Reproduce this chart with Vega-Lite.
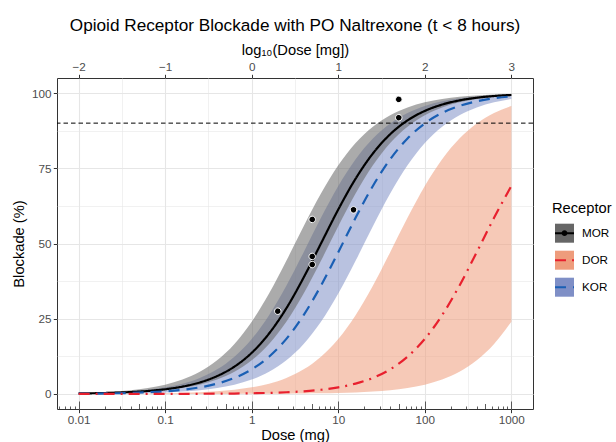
{
  "$schema": "https://vega.github.io/schema/vega-lite/v6.json",
  "width": 476,
  "height": 331,
  "autosize": {"type": "none"},
  "padding": {"left": 57, "top": 78, "right": 83, "bottom": 33},
  "background": "white",
  "title": {"text": "Opioid Receptor Blockade with PO Naltrexone (t < 8 hours)", "fontSize": 17.2, "font": "Liberation Sans", "fontWeight": "normal", "color": "black", "anchor": "middle", "offset": 8},
  "config": {
    "font": "Liberation Sans",
    "view": {"stroke": "#333333", "strokeWidth": 1},
    "axis": {"domain": false, "labelFont": "Liberation Sans", "labelColor": "#4d4d4d", "labelFontSize": 11.7, "tickColor": "#333333", "tickSize": 3.7, "tickWidth": 1, "titleFont": "Liberation Sans", "titleFontWeight": "normal", "titleFontSize": 14.7, "titleColor": "black", "gridColor": "#e6e6e6", "labelPadding": 2.2, "labelFlush": false, "labelOverlap": false, "labelBound": false},
    "legend": {"labelFont": "Liberation Sans", "titleFont": "Liberation Sans", "labelColor": "black", "titleColor": "black", "titleFontWeight": "normal", "padding": 0, "rowPadding": 0}
  },
  "datasets": {
    "curves": [
      {"d":0.01,"r":"MOR","m":0.16,"lo":0.13,"hi":0.32},
      {"d":0.01585,"r":"MOR","m":0.25,"lo":0.2,"hi":0.5},
      {"d":0.02512,"r":"MOR","m":0.4,"lo":0.32,"hi":0.79},
      {"d":0.03981,"r":"MOR","m":0.63,"lo":0.5,"hi":1.24},
      {"d":0.0631,"r":"MOR","m":0.99,"lo":0.79,"hi":1.96},
      {"d":0.1,"r":"MOR","m":1.56,"lo":1.24,"hi":3.07},
      {"d":0.1585,"r":"MOR","m":2.45,"lo":1.96,"hi":4.77},
      {"d":0.2512,"r":"MOR","m":3.83,"lo":3.07,"hi":7.36},
      {"d":0.3981,"r":"MOR","m":5.94,"lo":4.77,"hi":11.18},
      {"d":0.631,"r":"MOR","m":9.09,"lo":7.36,"hi":16.63},
      {"d":1,"r":"MOR","m":13.68,"lo":11.18,"hi":24.03},
      {"d":1.585,"r":"MOR","m":20.08,"lo":16.63,"hi":33.39},
      {"d":2.512,"r":"MOR","m":28.47,"lo":24.03,"hi":44.27},
      {"d":3.981,"r":"MOR","m":38.69,"lo":33.39,"hi":55.73},
      {"d":6.31,"r":"MOR","m":50,"lo":44.27,"hi":66.61},
      {"d":10,"r":"MOR","m":61.31,"lo":55.73,"hi":75.97},
      {"d":15.85,"r":"MOR","m":71.53,"lo":66.61,"hi":83.37},
      {"d":25.12,"r":"MOR","m":79.92,"lo":75.97,"hi":88.82},
      {"d":39.81,"r":"MOR","m":86.32,"lo":83.37,"hi":92.64},
      {"d":63.1,"r":"MOR","m":90.91,"lo":88.82,"hi":95.23},
      {"d":100,"r":"MOR","m":94.06,"lo":92.64,"hi":96.93},
      {"d":158.5,"r":"MOR","m":96.17,"lo":95.23,"hi":98.04},
      {"d":251.2,"r":"MOR","m":97.55,"lo":96.93,"hi":98.76},
      {"d":398.1,"r":"MOR","m":98.44,"lo":98.04,"hi":99.21},
      {"d":631,"r":"MOR","m":99.01,"lo":98.76,"hi":99.5},
      {"d":1000,"r":"MOR","m":99.37,"lo":99.21,"hi":99.68},
      {"d":0.01,"r":"KOR","m":0.09,"lo":0.05,"hi":0.22},
      {"d":0.01585,"r":"KOR","m":0.14,"lo":0.08,"hi":0.35},
      {"d":0.02512,"r":"KOR","m":0.22,"lo":0.13,"hi":0.56},
      {"d":0.03981,"r":"KOR","m":0.35,"lo":0.2,"hi":0.88},
      {"d":0.0631,"r":"KOR","m":0.56,"lo":0.32,"hi":1.39},
      {"d":0.1,"r":"KOR","m":0.88,"lo":0.5,"hi":2.19},
      {"d":0.1585,"r":"KOR","m":1.39,"lo":0.79,"hi":3.43},
      {"d":0.2512,"r":"KOR","m":2.19,"lo":1.24,"hi":5.32},
      {"d":0.3981,"r":"KOR","m":3.43,"lo":1.96,"hi":8.18},
      {"d":0.631,"r":"KOR","m":5.32,"lo":3.07,"hi":12.38},
      {"d":1,"r":"KOR","m":8.18,"lo":4.77,"hi":18.29},
      {"d":1.585,"r":"KOR","m":12.38,"lo":7.36,"hi":26.19},
      {"d":2.512,"r":"KOR","m":18.29,"lo":11.18,"hi":35.99},
      {"d":3.981,"r":"KOR","m":26.19,"lo":16.63,"hi":47.12},
      {"d":6.31,"r":"KOR","m":35.99,"lo":24.03,"hi":58.55},
      {"d":10,"r":"KOR","m":47.12,"lo":33.39,"hi":69.12},
      {"d":15.85,"r":"KOR","m":58.55,"lo":44.27,"hi":78.02},
      {"d":25.12,"r":"KOR","m":69.12,"lo":55.73,"hi":84.9},
      {"d":39.81,"r":"KOR","m":78.02,"lo":66.61,"hi":89.91},
      {"d":63.1,"r":"KOR","m":84.9,"lo":75.97,"hi":93.39},
      {"d":100,"r":"KOR","m":89.91,"lo":83.37,"hi":95.72},
      {"d":158.5,"r":"KOR","m":93.39,"lo":88.82,"hi":97.26},
      {"d":251.2,"r":"KOR","m":95.72,"lo":92.64,"hi":98.25},
      {"d":398.1,"r":"KOR","m":97.26,"lo":95.23,"hi":98.89},
      {"d":631,"r":"KOR","m":98.25,"lo":96.93,"hi":99.3},
      {"d":1000,"r":"KOR","m":98.89,"lo":98.04,"hi":99.55},
      {"d":0.01,"r":"DOR","m":0,"lo":0,"hi":0.02},
      {"d":0.01585,"r":"DOR","m":0,"lo":0,"hi":0.04},
      {"d":0.02512,"r":"DOR","m":0.01,"lo":0,"hi":0.06},
      {"d":0.03981,"r":"DOR","m":0.01,"lo":0,"hi":0.09},
      {"d":0.0631,"r":"DOR","m":0.01,"lo":0,"hi":0.14},
      {"d":0.1,"r":"DOR","m":0.02,"lo":0,"hi":0.22},
      {"d":0.1585,"r":"DOR","m":0.04,"lo":0.01,"hi":0.35},
      {"d":0.2512,"r":"DOR","m":0.06,"lo":0.01,"hi":0.56},
      {"d":0.3981,"r":"DOR","m":0.09,"lo":0.01,"hi":0.88},
      {"d":0.631,"r":"DOR","m":0.14,"lo":0.02,"hi":1.39},
      {"d":1,"r":"DOR","m":0.22,"lo":0.03,"hi":2.19},
      {"d":1.585,"r":"DOR","m":0.35,"lo":0.05,"hi":3.43},
      {"d":2.512,"r":"DOR","m":0.56,"lo":0.08,"hi":5.32},
      {"d":3.981,"r":"DOR","m":0.88,"lo":0.13,"hi":8.18},
      {"d":6.31,"r":"DOR","m":1.39,"lo":0.2,"hi":12.38},
      {"d":10,"r":"DOR","m":2.19,"lo":0.32,"hi":18.29},
      {"d":15.85,"r":"DOR","m":3.43,"lo":0.5,"hi":26.19},
      {"d":25.12,"r":"DOR","m":5.32,"lo":0.79,"hi":35.99},
      {"d":39.81,"r":"DOR","m":8.18,"lo":1.24,"hi":47.12},
      {"d":63.1,"r":"DOR","m":12.38,"lo":1.96,"hi":58.55},
      {"d":100,"r":"DOR","m":18.29,"lo":3.07,"hi":69.12},
      {"d":158.5,"r":"DOR","m":26.19,"lo":4.77,"hi":78.02},
      {"d":251.2,"r":"DOR","m":35.99,"lo":7.36,"hi":84.9},
      {"d":398.1,"r":"DOR","m":47.12,"lo":11.18,"hi":89.91},
      {"d":631,"r":"DOR","m":58.55,"lo":16.63,"hi":93.39},
      {"d":1000,"r":"DOR","m":69.12,"lo":24.03,"hi":95.72}
    ],
    "pts": [
      {"d":2,"b":27.5,"r":"MOR"},
      {"d":5,"b":58,"r":"MOR"},
      {"d":5,"b":45.7,"r":"MOR"},
      {"d":5,"b":43,"r":"MOR"},
      {"d":15,"b":61.2,"r":"MOR"},
      {"d":50,"b":97.9,"r":"MOR"},
      {"d":50,"b":91.8,"r":"MOR"}
    ]
  },
  "resolve": {"axis": {"x": "independent"}},
  "layer": [
    {
      "data": {"name": "curves"},
      "encoding": {
        "x": {"field": "d", "type": "quantitative",
          "scale": {"type": "log", "domain": [0.0056234, 1778.28], "nice": false},
          "axis": {"orient": "bottom", "title": "Dose (mg)", "titlePadding": 1,
            "values": [0.01, 0.0316228, 0.1, 0.316228, 1, 3.16228, 10, 31.6228, 100, 316.228, 1000],
            "labelExpr": "abs(log(datum.value)/LN10 - round(log(datum.value)/LN10)) < 0.1 ? format(datum.value, '~g') : ''",
            "tickOpacity": {"condition": {"test": "abs(log(datum.value)/LN10 - round(log(datum.value)/LN10)) > 0.1", "value": 0}, "value": 1},
            "grid": true,
            "gridWidth": {"condition": {"test": "abs(log(datum.value)/LN10 - round(log(datum.value)/LN10)) > 0.1", "value": 0.55}, "value": 1.1},
            "zindex": 0}},
        "y": {"field": "lo", "type": "quantitative",
          "scale": {"domain": [-5, 105], "nice": false, "zero": false},
          "axis": {"title": "Blockade (%)", "titlePadding": 5, "values": [0, 12.5, 25, 37.5, 50, 62.5, 75, 87.5, 100],
            "labelExpr": "datum.value % 25 == 0 ? format(datum.value, 'd') : ''",
            "tickOpacity": {"condition": {"test": "datum.value % 25 != 0", "value": 0}, "value": 1},
            "grid": true,
            "gridWidth": {"condition": {"test": "datum.value % 25 != 0", "value": 0.55}, "value": 1.1}}},
        "y2": {"field": "hi"},
        "fill": {"field": "r", "type": "nominal",
          "scale": {"domain": ["MOR", "DOR", "KOR"], "range": ["#666666", "#ee9c7c", "#7f8fc6"]},
          "legend": {"title": "Receptor", "orient": "none", "legendX": 495, "legendY": 123,
            "symbolType": "square", "symbolSize": 361, "symbolStrokeWidth": 2, "symbolStrokeColor": "transparent",
            "symbolOpacity": 1, "symbolOffset": 2, "labelOffset": 7, "labelFontSize": 11.7,
            "titleFontSize": 14.7, "titlePadding": 7, "rowPadding": 0, "padding": 0}}
      },
      "layer": [
        {"transform": [{"filter": "datum.r == 'DOR'"}], "mark": {"type": "area", "interpolate": "monotone", "fillOpacity": 0.55}},
        {"transform": [{"filter": "datum.r == 'KOR'"}], "mark": {"type": "area", "interpolate": "monotone", "fillOpacity": 0.55}},
        {"transform": [{"filter": "datum.r == 'MOR'"}], "mark": {"type": "area", "interpolate": "monotone", "fillOpacity": 0.55}}
      ]
    },
    {
      "data": {"name": "curves"},
      "mark": {"type": "line", "interpolate": "monotone", "strokeWidth": 2.2},
      "encoding": {
        "x": {"field": "d", "type": "quantitative",
          "scale": {"type": "log", "domain": [0.0056234, 1778.28], "nice": false},
          "axis": {"orient": "bottom", "title": null, "labels": false, "grid": false, "domain": false,
            "values": [0.006, 0.007, 0.008, 0.009, 0.01, 0.02, 0.03, 0.04, 0.05, 0.06, 0.07, 0.08, 0.09, 0.1, 0.2, 0.3, 0.4, 0.5, 0.6, 0.7, 0.8, 0.9, 1, 2, 3, 4, 5, 6, 7, 8, 9, 10, 20, 30, 40, 50, 60, 70, 80, 90, 100, 200, 300, 400, 500, 600, 700, 800, 900, 1000],
            "tickSize": {"condition": [
              {"test": "abs(log(datum.value)/LN10 - round(log(datum.value)/LN10)) < 0.01", "value": -8},
              {"test": "abs(log(datum.value/5)/LN10 - round(log(datum.value/5)/LN10)) < 0.01", "value": -5.5}
            ], "value": -3},
            "tickColor": "#333333", "tickWidth": 0.8, "zindex": 1}},
        "y": {"field": "m", "type": "quantitative",
          "scale": {"domain": [-5, 105], "nice": false, "zero": false},
          "axis": {"title": "Blockade (%)", "titlePadding": 5, "values": [0, 12.5, 25, 37.5, 50, 62.5, 75, 87.5, 100],
            "labelExpr": "datum.value % 25 == 0 ? format(datum.value, 'd') : ''",
            "tickOpacity": {"condition": {"test": "datum.value % 25 != 0", "value": 0}, "value": 1},
            "grid": true,
            "gridWidth": {"condition": {"test": "datum.value % 25 != 0", "value": 0.55}, "value": 1.1}}},
        "stroke": {"field": "r", "type": "nominal",
          "scale": {"domain": ["MOR", "DOR", "KOR", " "], "range": ["black", "#e8202e", "#1a5fb4", "black"]},
          "legend": {"title": null, "orient": "none", "legendX": 495, "legendY": 144.7, "values": ["MOR", "DOR", "KOR"],
            "symbolType": "M-1,-1M-1,1M-1,0L1,0", "symbolSize": 361, "symbolStrokeWidth": 2, "symbolFillColor": "transparent",
            "symbolOffset": 2, "labelExpr": "''", "labelFontSize": 21, "rowPadding": 0, "padding": 0}},
        "strokeDash": {"field": "r", "type": "nominal",
          "scale": {"domain": ["MOR", "DOR", "KOR", " "], "range": [[1, 0], [11, 6, 2, 6], [11, 7], [1, 0]]},
          "legend": {"title": null, "orient": "none", "legendX": 495, "legendY": 144.7, "values": ["MOR", "DOR", "KOR"],
            "symbolType": "M-1,-1M-1,1M-1,0L1,0", "symbolSize": 361, "symbolStrokeWidth": 2, "symbolFillColor": "transparent",
            "symbolOffset": 2, "labelExpr": "''", "labelFontSize": 21, "rowPadding": 0, "padding": 0}}
      }
    },
    {
      "data": {"values": [{}]},
      "mark": {"type": "rule", "stroke": "black", "strokeWidth": 1, "strokeDash": [4.5, 3]},
      "encoding": {
        "y": {"datum": 90, "type": "quantitative",
          "scale": {"domain": [-5, 105], "nice": false, "zero": false},
          "axis": {"title": "Blockade (%)", "titlePadding": 5, "values": [0, 12.5, 25, 37.5, 50, 62.5, 75, 87.5, 100],
            "labelExpr": "datum.value % 25 == 0 ? format(datum.value, 'd') : ''",
            "tickOpacity": {"condition": {"test": "datum.value % 25 != 0", "value": 0}, "value": 1},
            "grid": true,
            "gridWidth": {"condition": {"test": "datum.value % 25 != 0", "value": 0.55}, "value": 1.1}}}
      }
    },
    {
      "data": {"name": "pts"},
      "mark": {"type": "point", "filled": true, "fill": "black", "stroke": "white", "strokeWidth": 1, "size": 470, "opacity": 1},
      "encoding": {
        "x": {"field": "d", "type": "quantitative",
          "scale": {"type": "log", "domain": [0.0056234, 1778.28], "nice": false},
          "axis": {"orient": "top", "title": "log₁₀(Dose [mg])", "titlePadding": 4, "grid": false,
            "values": [0.01, 0.1, 1, 10, 100, 1000],
            "labelExpr": "format(log(datum.value)/LN10, '.0f')", "zindex": 0}},
        "y": {"field": "b", "type": "quantitative",
          "scale": {"domain": [-5, 105], "nice": false, "zero": false},
          "axis": {"title": "Blockade (%)", "titlePadding": 5, "values": [0, 12.5, 25, 37.5, 50, 62.5, 75, 87.5, 100],
            "labelExpr": "datum.value % 25 == 0 ? format(datum.value, 'd') : ''",
            "tickOpacity": {"condition": {"test": "datum.value % 25 != 0", "value": 0}, "value": 1},
            "grid": true,
            "gridWidth": {"condition": {"test": "datum.value % 25 != 0", "value": 0.55}, "value": 1.1}}},
        "shape": {"field": "r", "type": "nominal",
          "scale": {"domain": ["MOR"], "range": ["M-1,-1M1,1M0.3,0A0.3,0.3,0,1,1,-0.3,0A0.3,0.3,0,1,1,0.3,0Z"]},
          "legend": {"title": null, "orient": "none", "legendX": 495, "legendY": 144.7,
            "symbolSize": 361, "symbolFillColor": "black", "symbolStrokeColor": "white", "symbolStrokeWidth": 1,
            "symbolOffset": 2, "labelExpr": "''", "labelFontSize": 21, "rowPadding": 0, "padding": 0}}
      }
    }
  ]
}
